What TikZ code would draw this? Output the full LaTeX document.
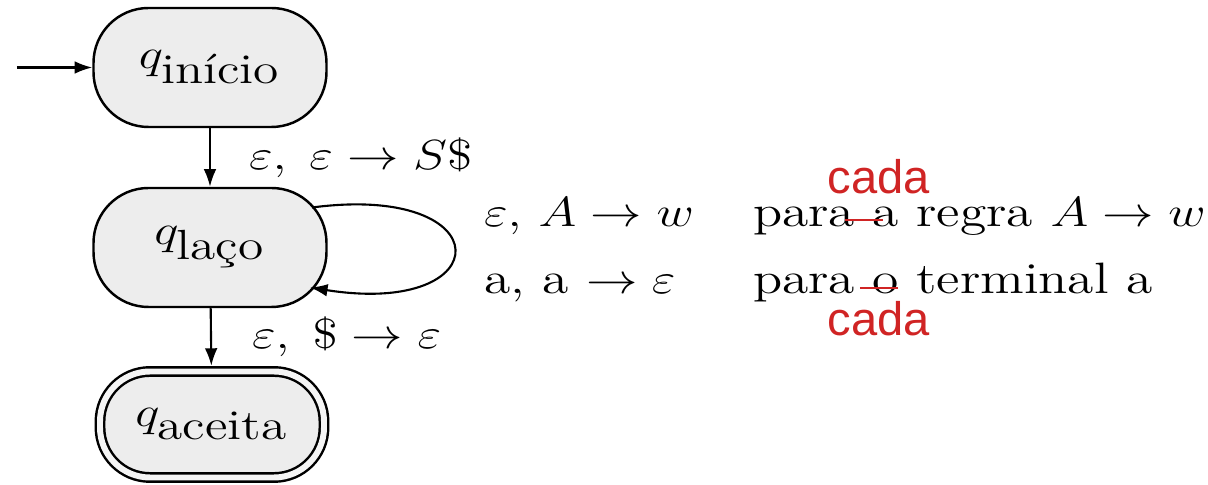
\documentclass[tikz,border=0pt]{standalone}
\usepackage{fontspec}
\usepackage{graphicx}
\usetikzlibrary{arrows.meta,calc}
\newfontfamily\notafont{Liberation Sans}
\definecolor{notacor}{RGB}{208,36,36}
\newcommand{\largo}[1]{\scalebox{1.22}[1]{#1}}
\tikzset{estado/.style={draw,line width=0.7pt,fill=gray!14,rounded corners=0.55cm,minimum width=2.33cm,minimum height=1.19cm,inner sep=0pt,font=\fontsize{12}{14}\selectfont},
  rot/.style={inner sep=0pt,font=\fontsize{12}{14}\selectfont},
  linha/.style={inner sep=0pt,anchor=base west,font=\fontsize{12.5}{15}\selectfont},
  nota/.style={text=notacor,inner sep=0pt,anchor=base,font=\notafont\fontsize{13.4}{16}\selectfont}}

\begin{document}
\begin{tikzpicture}[>={Latex[length=5pt,width=3.6pt]},line join=round,line width=0.6pt]
\useasboundingbox (0,0) rectangle (12.08,4.85);
% --- estados do AP
\node[estado] (ini) at (2.10,4.175) {\largo{$q_{\textrm{início}}$}};
\node[estado] (laco) at (2.10,2.375) {\largo{$q_{\textrm{laço}}$}};
\node[estado,double=gray!8,double distance=1.7pt,minimum width=2.24cm,minimum height=1.06cm,rounded corners=0.5cm,outer sep=1.6pt] (aceita) at (2.12,0.605) {\largo{$q_{\textrm{aceita}}$}};
% --- transicoes
\coordinate (entrada) at (0.17,4.175);
\draw[->] (entrada) -- (ini);
\draw[->] (ini) -- (laco) node[rot,midway,right=0.38cm] (t1) {\largo{$\varepsilon,\;\varepsilon\rightarrow S\$$}};
\draw[->] ($(laco)+(1.02,0.40)$) .. controls +(1.9,0.25) and +(1.9,-0.3) .. ($(laco)+(1.00,-0.40)$); % laco
\draw[->] (laco) -- (aceita) node[rot,midway,right=0.40cm] (t2) {\largo{$\varepsilon,\;\$\rightarrow\varepsilon$}};
% --- regras do laco
\node[linha] (r1a) at (4.83,2.58) {\largo{$\varepsilon,\,A\rightarrow w$}};
\node[linha] (r1b) at (7.52,2.58) {\largo{para a regra $A\rightarrow w$}};
\node[linha] (r2a) at (4.83,1.91) {\largo{a, a $\rightarrow\varepsilon$}};
\node[linha] (r2b) at (7.52,1.91) {\largo{para o terminal a}};
% --- correcoes em vermelho
\draw[notacor,line width=0.7pt] (8.45,2.65) -- (8.83,2.65);
\draw[notacor,line width=0.7pt] (8.60,1.97) -- (8.98,1.97);
\node[nota] (cada1) at (8.79,2.91) {cada};
\node[nota] (cada2) at (8.79,1.49) {cada};
\end{tikzpicture}
\end{document}
